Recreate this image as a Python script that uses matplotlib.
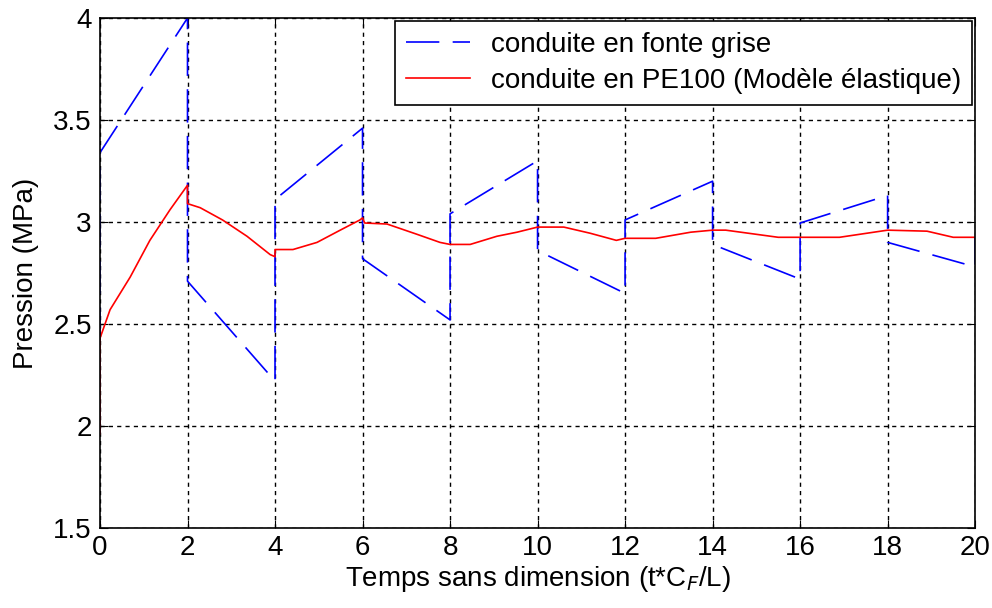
import matplotlib
matplotlib.use("Agg")
import matplotlib.pyplot as plt

plt.rcParams['font.family'] = ['Liberation Sans', 'DejaVu Sans']

# Blue series (gray cast iron) - sawtooth with vertical jumps
blue_x = [0, 0, 2, 2, 4, 4, 6, 6, 8, 8, 10, 10, 12, 12, 14, 14, 16, 16, 18, 18, 20, 20]
blue_y = [1.96, 3.34, 4.0, 2.71, 2.22, 3.11, 3.46, 2.82, 2.52, 3.04, 3.30, 2.86,
          2.65, 3.01, 3.20, 2.89, 2.72, 2.995, 3.13, 2.90, 2.78, 2.925]

# Red series (PE100, elastic model)
red_x = [0, 0, 0.23, 0.69, 1.14, 1.6, 2.0, 2.0, 2.29, 2.8, 3.36, 3.89, 4.0, 4.0, 4.41,
         4.96, 5.49, 5.94, 6.0, 6.05, 6.56, 7.24, 7.77, 8.0, 8.46, 9.07, 9.53, 10.0,
         10.6, 11.2, 11.8, 12.0, 12.7, 13.5, 14.0, 14.3, 15.5, 16.0, 16.9, 18.0,
         18.9, 19.5, 20.0]
red_y = [1.96, 2.43, 2.57, 2.73, 2.91, 3.06, 3.18, 3.09, 3.07, 3.01, 2.93, 2.84, 2.83,
         2.865, 2.865, 2.90, 2.96, 3.01, 3.02, 2.995, 2.99, 2.94, 2.90, 2.89, 2.89,
         2.93, 2.95, 2.975, 2.975, 2.945, 2.91, 2.92, 2.92, 2.95, 2.96, 2.96, 2.925,
         2.925, 2.925, 2.96, 2.955, 2.925, 2.925]

x_ticks = [0, 2, 4, 6, 8, 10, 12, 14, 16, 18, 20]
y_ticks = [1.5, 2, 2.5, 3, 3.5, 4]
y_tick_labels = ['1.5', '2', '2.5', '3', '3.5', '4']

FS = 20

fig = plt.figure(figsize=(9.92, 6.08), dpi=100)
ax = fig.add_axes([0.1008, 0.1316, 0.8822, 0.8388])

ax.plot(blue_x, blue_y, color='#0000ff', linewidth=1.2, dashes=(20, 8),
        label='conduite en fonte grise')
ax.plot(red_x, red_y, color='#ff0000', linewidth=1.2,
        label='conduite en PE100 (Modèle élastique)')

ax.set_xlim(0, 20)
ax.set_ylim(1.5, 4)
ax.set_xticks(x_ticks)
ax.set_xticklabels([str(t) for t in x_ticks])
ax.set_yticks(y_ticks)
ax.set_yticklabels(y_tick_labels)
ax.grid(True, color='black', linestyle=(0, (3, 3)), linewidth=1.0)
ax.tick_params(direction='in', top=True, right=True, length=6, labelsize=FS)
ax.tick_params(axis='x', pad=5)
ax.tick_params(axis='y', pad=6)
for s in ax.spines.values():
    s.set_linewidth(1.2)

ax.set_xlabel('Temps sans dimension (t*C$_F$/L)', fontsize=FS, labelpad=2)
ax.set_ylabel('Pression (MPa)', fontsize=FS, labelpad=10)

leg = ax.legend(loc='upper right', fontsize=FS, fancybox=False, framealpha=1,
                edgecolor='black', handlelength=2.3, borderaxespad=0.1,
                borderpad=0.4, labelspacing=0.35, handletextpad=0.75)
leg.get_frame().set_linewidth(1.2)

fig.savefig('out.png', dpi=100)
